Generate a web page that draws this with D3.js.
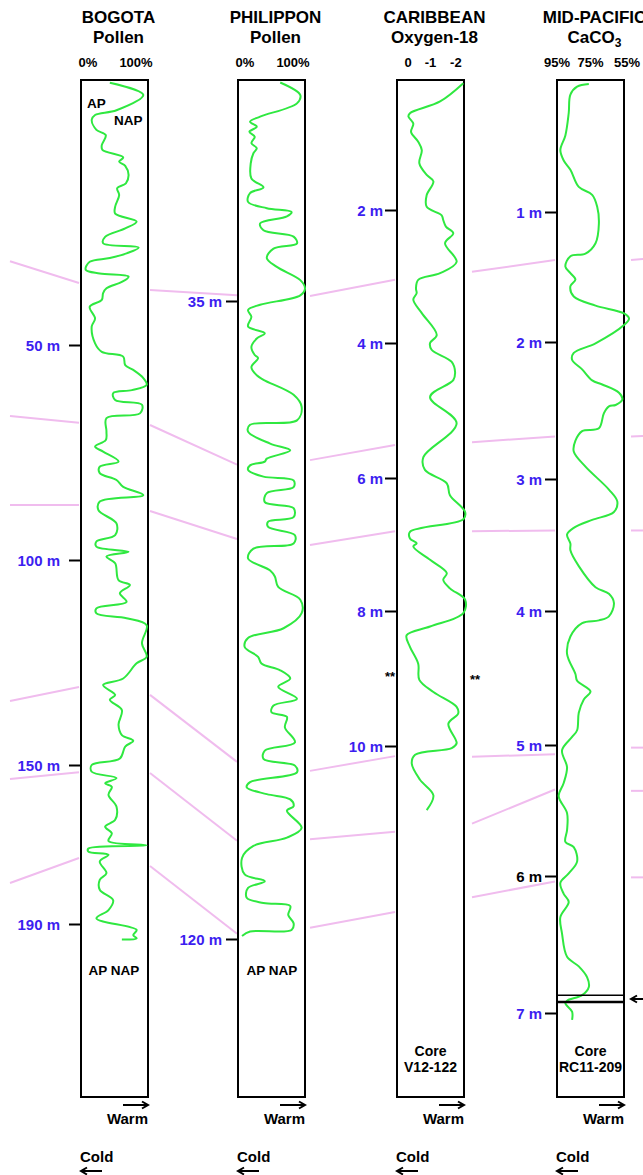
<!DOCTYPE html>
<html>
<head>
<meta charset="utf-8">
<script src="https://cdn.jsdelivr.net/npm/d3@7"></script>
<style>
body { margin: 0; background: #fff; }
svg text { font-family: "Liberation Sans", Arial, sans-serif; font-weight: bold; }
</style>
</head>
<body>
<div class="vis"></div>
<script>
// ---- data ----
const coreNames = ["BOGOTA", "PHILIPPON", "CARIBBEAN", "MID-PACIFIC"];
const coreSubtitles = ["Pollen", "Pollen", "Oxygen-18", "CaCO"];
const headerTickValues = [[0, 100], [0, 100], [0, -1, -2], [95, 75, 55]];
const headerTickLabels = [["0%", "100%"], ["0%", "100%"], ["0", "-1", "-2"], ["95%", "75%", "55%"]];

const bogotaTicks = [50, 100, 150, 190];
const philipponTicks = [35, 120];
const caribbeanTicks = [2, 4, 6, 8, 10];
const midPacificTicks = [1, 2, 3, 4, 5, 6, 7];

// [depth m, AP %]
const bogotaPollen = [[0.5,43],[2.8,93],[5.7,53],[6.6,21],[7.5,16],[9.4,23],[10.4,37],[12.3,31],[13.2,32],[14.6,63],[15.4,57],[16.2,66],[17.9,71],[19.5,67],[20.4,54],[21.7,57],[23.9,51],[25.2,51],[26.7,83],[28.0,66],[29.6,36],[30.8,33],[31.6,86],[32.7,68],[33.6,43],[34.3,13],[35.8,7],[36.5,28],[37.1,71],[38.1,61],[39.3,38],[40.2,33],[41.5,31],[42.8,13],[45.0,21],[46.5,16],[49.7,21],[51.6,31],[52.7,63],[54.7,66],[55.8,78],[57.7,93],[59.3,98],[60.5,76],[61.2,48],[62.8,51],[63.9,91],[65.9,88],[67.0,38],[70.1,38],[72.1,37],[73.6,21],[74.8,33],[77.1,56],[78.3,28],[79.8,28],[81.4,53],[83.0,63],[84.9,93],[86.4,28],[88.4,26],[91.5,53],[94.2,51],[95.7,23],[96.9,23],[98.1,71],[99.2,38],[100.8,51],[104.9,56],[106.1,73],[108.1,58],[110.2,68],[111.8,23],[113.0,23],[114.2,68],[115.9,98],[120.3,91],[123.6,98],[125.2,83],[128.9,63],[130.5,33],[132.9,51],[134.1,43],[136.6,61],[140.2,56],[142.7,61],[144.1,78],[145.5,66],[148.4,58],[150.0,16],[151.7,16],[153.3,53],[154.6,36],[155.5,46],[157.5,41],[160.5,53],[163.8,51],[165.5,36],[167.2,46],[169.1,41],[170.2,98],[171.0,11],[171.8,11],[172.6,41],[174.3,28],[177.2,38],[178.9,28],[181.4,28],[184.0,48],[186.5,41],[188.6,23],[191.5,83],[192.8,78],[193.6,83],[193.9,61]];

const philipponPollen = [[0.4,63],[2.4,93],[3.7,88],[5.8,33],[6.6,18],[7.4,28],[8.2,17],[9.0,25],[10.0,20],[10.8,28],[11.6,23],[13.2,19],[15.6,20],[17.0,38],[17.9,18],[19.3,15],[20.3,43],[20.9,80],[21.6,73],[22.7,33],[23.8,38],[24.8,83],[25.9,88],[26.7,53],[28.2,43],[29.6,58],[31.7,93],[33.0,100],[34.1,93],[35.5,33],[36.2,15],[37.1,20],[38.4,15],[39.3,40],[40.0,28],[41.1,20],[42.2,25],[42.6,30],[43.8,20],[44.9,28],[45.5,38],[47.5,83],[49.1,95],[50.9,88],[51.5,18],[52.4,15],[54.0,48],[54.9,78],[56.0,43],[56.4,40],[56.9,18],[57.5,15],[58.4,38],[58.9,83],[59.8,83],[60.6,43],[61.8,40],[62.6,83],[63.8,83],[64.4,45],[65.1,45],[66.2,85],[67.3,83],[68.0,23],[69.3,15],[70.9,48],[71.7,55],[73.1,60],[74.8,93],[76.6,95],[78.6,68],[79.9,15],[81.1,10],[82.4,30],[83.3,35],[84.2,63],[85.3,78],[86.4,60],[88.0,88],[88.9,53],[89.8,50],[90.4,73],[91.8,70],[93.8,85],[94.9,40],[96.0,38],[96.9,85],[97.8,88],[99.1,18],[99.8,13],[100.7,43],[101.4,78],[102.3,83],[102.9,73],[105.2,95],[106.5,73],[107.6,23],[109.2,6],[111.4,10],[112.3,40],[113.2,15],[114.5,13],[115.2,38],[115.6,78],[116.8,75],[117.9,83],[118.8,80],[119.0,18],[119.6,6]];

// [depth m, delta O-18 per mil]
const caribbeanO18 = [[0.05,-2.47],[0.33,-1.43],[0.51,-0.08],[0.56,-0.01],[0.67,-0.23],[0.80,-0.13],[0.95,-0.45],[1.08,-0.61],[1.28,-0.50],[1.46,-0.83],[1.56,-1.13],[1.77,-0.83],[1.95,-0.83],[2.08,-1.50],[2.15,-1.57],[2.25,-1.69],[2.35,-2.02],[2.50,-1.65],[2.78,-2.17],[2.95,-1.43],[3.05,-0.45],[3.18,-0.35],[3.25,-0.38],[3.35,-0.23],[3.55,-0.61],[3.88,-1.28],[4.00,-0.98],[4.10,-1.05],[4.28,-1.95],[4.43,-2.10],[4.55,-2.02],[4.80,-0.98],[5.19,-2.17],[5.69,-0.68],[5.88,-0.75],[6.08,-1.73],[6.26,-1.87],[6.51,-2.55],[6.62,-2.47],[6.81,-0.08],[6.91,-0.08],[6.98,-0.38],[7.03,-0.23],[7.23,-0.98],[7.43,-1.73],[7.53,-1.57],[7.66,-1.87],[7.83,-2.55],[8.03,-2.47],[8.23,-0.98],[8.36,0.07],[8.53,-0.08],[8.78,-0.45],[9.02,-0.50],[9.20,-1.13],[9.42,-2.17],[9.52,-2.24],[9.67,-1.80],[9.96,-2.17],[10.03,-1.95],[10.13,-0.31],[10.26,-0.16],[10.50,-0.53],[10.73,-1.13],[10.95,-0.83]];

// [depth m, CaCO3 %]
const midPacificCaCO3 = [[0.03,76],[0.05,83],[0.11,87],[0.25,88],[0.42,90],[0.53,93],[0.61,91],[0.68,87],[0.81,82],[0.87,74],[0.96,71],[1.09,70],[1.24,72],[1.32,78],[1.34,87],[1.42,90],[1.47,87],[1.52,84],[1.57,87],[1.65,85],[1.72,72],[1.78,55],[1.82,52],[1.87,55],[2.01,72],[2.08,85],[2.13,86],[2.20,80],[2.28,74],[2.31,68],[2.37,58],[2.42,56],[2.46,60],[2.47,64],[2.52,67],[2.63,70],[2.65,80],[2.72,84],[2.80,85],[2.91,78],[3.08,64],[3.17,59],[3.25,61],[3.31,74],[3.37,85],[3.42,89],[3.49,87],[3.54,87],[3.66,82],[3.82,72],[3.87,64],[3.94,61],[4.04,64],[4.07,70],[4.09,80],[4.19,87],[4.32,89],[4.47,84],[4.52,83],[4.60,75],[4.66,79],[4.76,82],[4.89,83],[4.94,86],[5.04,92],[5.17,89],[5.29,91],[5.39,94],[5.52,89],[5.65,89],[5.74,90],[5.78,85],[5.89,83],[5.98,88],[6.05,93],[6.13,91],[6.19,88],[6.30,93],[6.42,92],[6.59,89],[6.66,82],[6.74,77],[6.81,76],[6.87,80],[6.91,89],[6.93,90],[6.99,86],[7.05,86]];

const midPacificBreaks = [6.87, 6.92];

// correlation lines: [depth at left end, depth at right end] for each gap
const tiesOuterLeft = [[34.2,38.3],[66.5,68.1],[87.2,87.2],[134.4,131.0],[153.5,151.8],[179.7,173.4]];
const tiesBogPhil = [[39.6,34.1],[68.6,56.8],[88.6,66.7],[132.9,96.4],[152.0,106.9],[175.4,119.3]];
const tiesPhilCar = [[34.2,3.05],[56.2,5.51],[67.5,6.80],[97.6,10.15],[106.7,11.27],[118.5,12.46]];
const tiesCarMid = [[2.93,1.37],[5.47,2.69],[6.80,3.39],[10.16,5.07],[11.15,5.34],[12.24,6.04]];
const tiesOuterRight = [[1.37,1.35],[2.69,2.68],[3.39,3.39],[5.02,5.02],[5.35,5.35],[6.01,6.01]];

// ---- layout ----
const W = 643, H = 1175;
const boxX = [81, 238, 397, 557];
const boxW = 67, boxTop = 80, boxBottom = 1097;
const blue = "#3c1ef0", green = "#2fe840", pink = "#f0bcee";

const svg = d3.select(".vis").append("svg")
	.attr("width", W).attr("height", H);

// depth scales (depth -> y), one per core
const yScales = [
	d3.scaleLinear().domain([0, 50, 100, 150, 190]).range([boxTop, 345, 560, 765, 924]),
	d3.scaleLinear().domain([0, 35, 120]).range([boxTop, 301, 939]),
	d3.scaleLinear().domain([0, 2, 4, 6, 8, 10]).range([boxTop, 210, 343, 478, 611, 746]),
	d3.scaleLinear().domain([0, 1, 2, 3, 4, 5, 6, 7]).range([boxTop, 212, 342, 479, 611, 745, 876, 1013])
];
// value scales (value -> x)
const xScales = [
	d3.scaleLinear().domain([0, 100]).range([boxX[0], boxX[0] + boxW]),
	d3.scaleLinear().domain([0, 100]).range([boxX[1], boxX[1] + boxW]),
	d3.scaleLinear().domain([0.5, -2.5]).range([boxX[2], boxX[2] + boxW]),
	d3.scaleLinear().domain([95, 55]).range([boxX[3], boxX[3] + boxW])
];

// correlation lines
const gaps = [
	{ties: tiesOuterLeft, a: 0, b: 0, x1: 10, x2: boxX[0] - 2},
	{ties: tiesBogPhil, a: 0, b: 1, x1: boxX[0] + boxW + 2, x2: boxX[1] - 1},
	{ties: tiesPhilCar, a: 1, b: 2, x1: boxX[1] + boxW + 5, x2: boxX[2] - 2},
	{ties: tiesCarMid, a: 2, b: 3, x1: boxX[2] + boxW + 8, x2: boxX[3] - 2},
	{ties: tiesOuterRight, a: 3, b: 3, x1: boxX[3] + boxW + 7, x2: 660}
];
gaps.forEach(g => {
	svg.append("g").selectAll("line")
		.data(g.ties)
		.enter().append("line")
		.attr("x1", g.x1).attr("x2", g.x2)
		.attr("y1", d => yScales[g.a](d[0]))
		.attr("y2", d => yScales[g.b](d[1]))
		.attr("stroke", pink).attr("stroke-width", 2);
});

// boxes
svg.append("g").selectAll("rect")
	.data(boxX)
	.enter().append("rect")
	.attr("x", d => d).attr("y", boxTop)
	.attr("width", boxW).attr("height", boxBottom - boxTop)
	.attr("fill", "none").attr("stroke", "#000").attr("stroke-width", 2);

// curves
const series = [bogotaPollen, philipponPollen, caribbeanO18, midPacificCaCO3];
series.forEach((data, i) => {
	const line = d3.line()
		.x(d => xScales[i](d[1]))
		.y(d => yScales[i](d[0]))
		.curve(d3.curveCatmullRom.alpha(0.5));
	svg.append("path")
		.datum(data)
		.attr("d", line)
		.attr("fill", "none")
		.attr("stroke", green)
		.attr("stroke-width", 2);
});

// mid-pacific core break
svg.append("g").selectAll("line")
	.data(midPacificBreaks)
	.enter().append("line")
	.attr("x1", boxX[3]).attr("x2", boxX[3] + boxW)
	.attr("y1", d => yScales[3](d)).attr("y2", d => yScales[3](d))
	.attr("stroke", "#000").attr("stroke-width", (d, i) => i ? 2.5 : 1.5);

// depth axes
const tickSets = [bogotaTicks, philipponTicks, caribbeanTicks, midPacificTicks];
const pads = [9, 4, 2, 3];
tickSets.forEach((ticks, i) => {
	const ax = svg.append("g")
		.attr("transform", "translate(" + boxX[i] + ",0)")
		.call(d3.axisLeft(yScales[i]).tickValues(ticks).tickSize(12).tickPadding(pads[i])
			.tickFormat(d => d + " m"));
	ax.select(".domain").remove();
	ax.selectAll("line").attr("stroke", "#000").attr("stroke-width", 2);
	ax.selectAll("text")
		.attr("font-size", 15)
		.attr("font-family", null)
		.attr("dy", "0.36em")
		.attr("fill", d => (i === 3 && d === 6) ? "#000" : blue);
});

// headers
coreNames.forEach((name, i) => {
	const cx = boxX[i] + boxW / 2 + 4;
	svg.append("text").attr("x", cx).attr("y", 23)
		.attr("text-anchor", "middle").attr("font-size", 17).text(name);
	const sub = svg.append("text").attr("x", cx).attr("y", 42.5)
		.attr("text-anchor", "middle").attr("font-size", 17).text(coreSubtitles[i]);
	if (i === 3) sub.append("tspan").attr("font-size", 12).attr("dy", 4).text("3");
	const nudge = i < 2 ? [7, -12] : [0, 0, 3];
	headerTickValues[i].forEach((v, j) => {
		svg.append("text")
			.attr("x", xScales[i](v) + nudge[j])
			.attr("y", 66.5)
			.attr("text-anchor", "middle").attr("font-size", 13)
			.text(headerTickLabels[i][j]);
	});
});

// small labels
function label(x, y, txt, size, anchor) {
	svg.append("text").attr("x", x).attr("y", y)
		.attr("font-size", size).attr("text-anchor", anchor || "middle").text(txt);
}
label(boxX[0] + 6, 108, "AP", 13.5, "start");
label(boxX[0] + 33, 125, "NAP", 13.5, "start");
label(boxX[0] + 33, 975, "AP NAP", 13.5);
label(boxX[1] + 34, 975, "AP NAP", 13.5);
label(boxX[2] - 2, 681, "**", 13, "end");
label(boxX[2] + boxW + 6, 684, "**", 13, "start");
label(boxX[2] + boxW / 2, 1056, "Core", 14);
label(boxX[2] + boxW / 2, 1072, "V12-122", 14);
label(boxX[3] + boxW / 2, 1056, "Core", 14);
label(boxX[3] + boxW / 2, 1072, "RC11-209", 14);

// arrows
function arrow(x1, x2, y) {
	const dir = x2 > x1 ? 1 : -1;
	svg.append("path")
		.attr("d", "M" + x1 + "," + y + "H" + x2 +
			"M" + (x2 - dir * 6) + "," + (y - 3.5) + "L" + x2 + "," + y + "L" + (x2 - dir * 6) + "," + (y + 3.5))
		.attr("fill", "none").attr("stroke", "#000").attr("stroke-width", 2);
}
boxX.forEach(x => {
	arrow(x + boxW - 25, x + boxW, 1105);
	label(x + boxW, 1124, "Warm", 15, "end");
	label(x - 1, 1162, "Cold", 15, "start");
	arrow(x + 21, x, 1171);
});
arrow(645, 631, 999);
</script>
</body>
</html>
